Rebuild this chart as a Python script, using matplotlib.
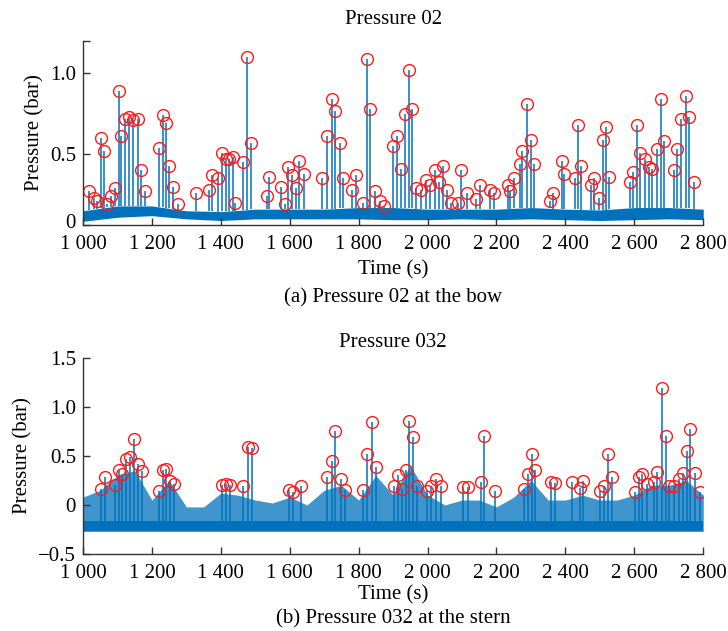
import numpy as np
import matplotlib
matplotlib.use("Agg")
import matplotlib.pyplot as plt
import matplotlib.transforms as mtransforms

plt.rcParams['font.family'] = ['Liberation Serif', 'DejaVu Serif']
plt.rcParams['font.size'] = 15

# ---- Pressure 02 (bow): marked peaks ----
p02_t = [1018, 1032, 1042, 1051, 1061, 1071, 1080, 1092, 1104, 1111, 1123, 1134,
         1146, 1160, 1169, 1181, 1221, 1231, 1241, 1251, 1262, 1276, 1328, 1365,
         1374, 1392, 1404, 1415, 1425, 1436, 1442, 1465, 1477, 1487, 1533, 1541,
         1576, 1586, 1595, 1606, 1618, 1628, 1640, 1694, 1707, 1722, 1730, 1746,
         1756, 1781, 1791, 1812, 1824, 1833, 1847, 1862, 1874, 1901, 1911, 1922,
         1934, 1946, 1955, 1967, 1982, 1996, 2007, 2021, 2033, 2046, 2056, 2069,
         2087, 2098, 2114, 2141, 2153, 2180, 2193, 2232, 2240, 2251, 2267, 2274,
         2288, 2300, 2309, 2354, 2364, 2389, 2397, 2427, 2437, 2445, 2474, 2483,
         2497, 2509, 2518, 2526, 2586, 2596, 2607, 2617, 2631, 2642, 2652, 2667,
         2677, 2687, 2714, 2725, 2735, 2751, 2758, 2772]
p02_v = [0.27, 0.23, 0.21, 0.60, 0.52, 0.19, 0.24, 0.29, 0.89, 0.61, 0.72, 0.73,
         0.71, 0.72, 0.40, 0.27, 0.54, 0.74, 0.69, 0.43, 0.30, 0.19, 0.26, 0.28,
         0.37, 0.35, 0.51, 0.47, 0.47, 0.48, 0.20, 0.45, 1.10, 0.57, 0.24, 0.36,
         0.30, 0.19, 0.42, 0.37, 0.29, 0.46, 0.38, 0.35, 0.61, 0.84, 0.77, 0.57,
         0.35, 0.28, 0.37, 0.20, 1.09, 0.78, 0.27, 0.21, 0.18, 0.55, 0.61, 0.41,
         0.75, 1.02, 0.78, 0.29, 0.28, 0.34, 0.31, 0.40, 0.33, 0.43, 0.28, 0.20,
         0.20, 0.40, 0.26, 0.22, 0.31, 0.28, 0.26, 0.31, 0.27, 0.35, 0.44, 0.52,
         0.81, 0.59, 0.44, 0.21, 0.26, 0.46, 0.38, 0.35, 0.68, 0.43, 0.31, 0.35,
         0.23, 0.59, 0.67, 0.36, 0.33, 0.39, 0.68, 0.51, 0.47, 0.42, 0.41, 0.53,
         0.84, 0.58, 0.40, 0.53, 0.72, 0.86, 0.73, 0.33]

# ---- Pressure 032 (stern): marked peaks ----
p032_t = [1053, 1063, 1092, 1104, 1113, 1125, 1136, 1148, 1160, 1171, 1222, 1233,
          1241, 1253, 1264, 1404, 1415, 1427, 1465, 1479, 1491, 1599, 1610, 1633,
          1709, 1723, 1732, 1748, 1760, 1814, 1825, 1838, 1849, 1903, 1914, 1926,
          1936, 1947, 1959, 1970, 1998, 2011, 2023, 2038, 2102, 2116, 2156, 2165,
          2197, 2280, 2292, 2302, 2313, 2358, 2371, 2418, 2441, 2452, 2501, 2512,
          2524, 2536, 2602, 2613, 2623, 2636, 2657, 2665, 2679, 2692, 2702, 2716,
          2731, 2741, 2753, 2763, 2776, 2792]
p032_v = [0.16, 0.28, 0.20, 0.36, 0.32, 0.47, 0.49, 0.67, 0.42, 0.35, 0.14, 0.36,
          0.37, 0.24, 0.21, 0.20, 0.21, 0.20, 0.19, 0.59, 0.58, 0.15, 0.13, 0.19,
          0.29, 0.45, 0.75, 0.26, 0.15, 0.15, 0.52, 0.85, 0.39, 0.19, 0.31, 0.16,
          0.36, 0.86, 0.69, 0.19, 0.14, 0.19, 0.26, 0.19, 0.18, 0.18, 0.23, 0.70,
          0.14, 0.16, 0.32, 0.52, 0.36, 0.23, 0.22, 0.23, 0.17, 0.24, 0.14, 0.19,
          0.52, 0.28, 0.13, 0.29, 0.32, 0.21, 0.23, 0.34, 1.19, 0.70, 0.19, 0.19,
          0.26, 0.33, 0.55, 0.77, 0.33, 0.13]

# ---- background signal envelopes (read every 100 s / 50 s) ----
env02_t = np.arange(1000, 2801, 100)
env02_low = [0.085, 0.11, 0.12, 0.10, 0.09, 0.10, 0.10, 0.10, 0.10, 0.095,
             0.095, 0.10, 0.095, 0.10, 0.095, 0.09, 0.095, 0.10, 0.095]
env02_high = [0.15, 0.18, 0.18, 0.15, 0.145, 0.16, 0.16, 0.16, 0.17, 0.17,
              0.16, 0.16, 0.16, 0.17, 0.16, 0.155, 0.17, 0.17, 0.16]

env032_t = np.arange(1000, 2801, 50)
env032_crest = [0.08, 0.15, 0.30, 0.35, 0.05, 0.25, -0.02, -0.02, 0.12, 0.10,
                0.05, 0.02, 0.08, 0.00, 0.15, 0.20, 0.05, 0.30, 0.10, 0.40,
                0.10, 0.00, 0.05, 0.05, -0.02, 0.08, 0.25, 0.05, 0.05, 0.10,
                0.05, 0.05, 0.10, 0.20, 0.20, 0.25, 0.10]
env032_low = -0.27
env032_dark = -0.16

blue = '#0072BD'
red = '#FF1A1A'
xticks = np.arange(1000, 2801, 200)
xlabels = [f"{v // 1000} {v % 1000:03d}" for v in xticks]

fig = plt.figure(figsize=(7.28, 6.31), dpi=100)
ax1 = fig.add_axes([0.114, 0.6434, 0.852, 0.2916])
ax2 = fig.add_axes([0.114, 0.122, 0.852, 0.311])


def style(ax, xpad):
    for s in ['top', 'right']:
        ax.spines[s].set_visible(False)
    for s in ['left', 'bottom']:
        ax.spines[s].set_color('#333333')
        ax.spines[s].set_linewidth(1.0)
    ax.tick_params(direction='in', length=5, width=1, color='#333333', labelsize=15)
    ax.tick_params(axis='x', pad=7)
    ax.tick_params(axis='y', pad=5)
    ax.set_xlim(1000, 2800)
    ax.set_xticks(xticks)
    ax.set_xticklabels(xlabels)
    ax.set_xlabel('Time (s)', labelpad=xpad)
    ax.set_ylabel('Pressure (bar)', labelpad=4)


# top panel
ax1.fill_between(env02_t, env02_low, env02_high, color=blue, lw=0)
base02 = np.interp(p02_t, env02_t, env02_high)
ax1.vlines(p02_t, base02, p02_v, color=blue, lw=1.1)
ax1.plot(p02_t, p02_v, 'o', ms=8.5, mfc='none', mec=red, mew=1.0)
style(ax1, 5)
ylo = 0.062
ax1.set_ylim(ylo, 1.2)
ax1.set_yticks([ylo, 0.5, 1.0, 1.2])
ax1.set_yticklabels(['0', '0.5', '1.0', ''])
# lift the corner "0" a little so it clears the "1 000" label
lab0 = ax1.get_yticklabels()[0]
lab0.set_transform(lab0.get_transform() +
                   mtransforms.ScaledTranslation(0, 3 / 72, fig.dpi_scale_trans))
ax1.set_title('Pressure 02', fontsize=15, pad=12)
fig.text(0.54, 0.528, '(a) Pressure 02 at the bow', ha='center', va='center', fontsize=15)

# bottom panel
ax2.fill_between(env032_t, env032_low, env032_crest, color=blue, alpha=0.75, lw=0)
ax2.fill_between(env032_t, env032_low, env032_dark, color=blue, lw=0)
base032 = np.full(len(p032_t), env032_dark)
ax2.vlines(p032_t, base032, p032_v, color=blue, lw=1.1)
ax2.plot(p032_t, p032_v, 'o', ms=8.5, mfc='none', mec=red, mew=1.0)
style(ax2, 2)
ax2.set_ylim(-0.5, 1.5)
ax2.set_yticks([-0.5, 0, 0.5, 1.0, 1.5])
ax2.set_yticklabels(['\u22120.5', '0', '0.5', '1.0', '1.5'])
ax2.set_title('Pressure 032', fontsize=15, pad=8)
fig.text(0.54, 0.019, '(b) Pressure 032 at the stern', ha='center', va='center', fontsize=15)

fig.savefig('out.png', dpi=100)
